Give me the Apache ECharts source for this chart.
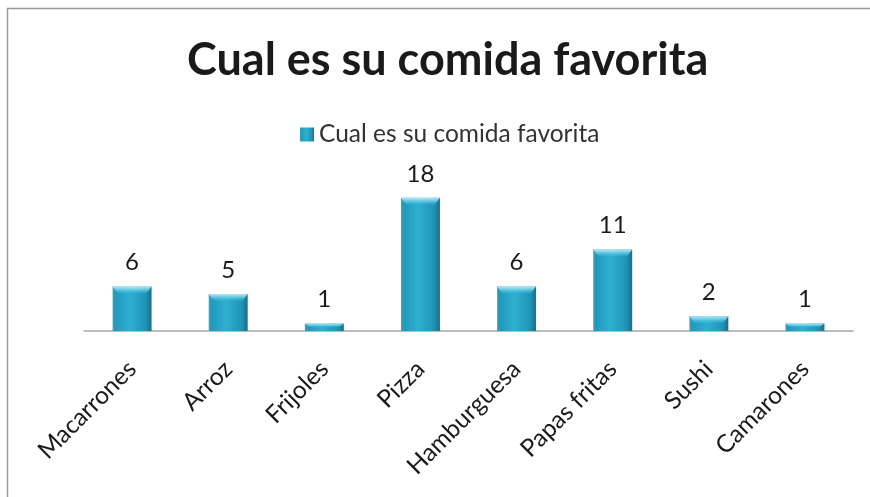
<!DOCTYPE html>
<html>
<head>
<meta charset="utf-8">
<script src="https://cdn.jsdelivr.net/npm/echarts@6/dist/echarts.min.js"></script>
<style>
  html, body { margin: 0; padding: 0; background: #fff; }
  #chart { width: 870px; height: 497px; }
</style>
</head>
<body>
<div id="chart"></div>
<script>
// Survey: favourite food
const categories = ['Macarrones', 'Arroz', 'Frijoles', 'Pizza', 'Hamburguesa', 'Papas fritas', 'Sushi', 'Camarones'];
const votes = [6, 5, 1, 18, 6, 11, 2, 1];
const seriesName = 'Cual es su comida favorita';
const titleText = 'Cual es su comida favorita';

const FONT = 'Lato, "Open Sans", sans-serif';
const BAR_W = 39;

// Cylinder-like shading: darker sides, brighter middle
const barFill = new echarts.graphic.LinearGradient(0, 0, 1, 0, [
  { offset: 0, color: '#5f9fb3' },
  { offset: 0.06, color: '#1f98bb' },
  { offset: 0.45, color: '#2fb0d3' },
  { offset: 0.85, color: '#1f93b5' },
  { offset: 1, color: '#15708b' }
]);

// Bevelled highlight on the top of each bar
function renderBevel(params, api) {
  const idx = api.value(0);
  const top = api.coord([idx, api.value(1)]);
  const base = api.coord([idx, 0]);
  const x0 = top[0] - BAR_W / 2;
  const x1 = top[0] + BAR_W / 2;
  const h = Math.min(7, (base[1] - top[1]) * 0.5);
  const inset = 5;
  return {
    type: 'polygon',
    shape: {
      points: [[x0, top[1]], [x1, top[1]], [x1 - inset, top[1] + h], [x0 + inset, top[1] + h]]
    },
    style: {
      fill: new echarts.graphic.LinearGradient(0, 0, 0, 1, [
        { offset: 0, color: 'rgba(190,238,250,0.95)' },
        { offset: 0.5, color: 'rgba(120,212,236,0.7)' },
        { offset: 1, color: 'rgba(60,184,216,0.2)' }
      ])
    },
    silent: true
  };
}

const chart = echarts.init(document.getElementById('chart'), null, { renderer: 'canvas' });
chart.setOption({
  backgroundColor: '#ffffff',
  animation: false,
  graphic: [{
    type: 'rect',
    shape: { x: 7.5, y: 8.5, width: 900, height: 600 },
    style: { fill: 'none', stroke: '#9a9a9a', lineWidth: 1.5 },
    silent: true,
    z: -1
  }],
  title: {
    text: titleText,
    left: 182,
    top: 33,
    textStyle: { fontFamily: FONT, fontWeight: 'bold', fontSize: 45, color: '#1a1a1a' }
  },
  legend: {
    data: [seriesName],
    top: 117,
    left: 295,
    itemWidth: 14,
    itemHeight: 14,
    itemGap: 5,
    icon: 'rect',
    textStyle: { fontFamily: FONT, fontSize: 24.5, color: '#333' }
  },
  grid: { left: 84, right: 17, top: 183, bottom: 166, containLabel: false },
  xAxis: {
    type: 'category',
    data: categories,
    axisLine: { show: true, lineStyle: { color: '#a6a6a6', width: 1.5 } },
    axisTick: { show: false },
    axisLabel: {
      rotate: 45,
      interval: 0,
      margin: 34,
      fontFamily: FONT,
      fontSize: 24.5,
      color: '#1a1a1a'
    }
  },
  yAxis: {
    type: 'value',
    min: 0,
    max: 20,
    interval: 2,
    show: false,
    splitLine: { show: false }
  },
  series: [{
    name: seriesName,
    type: 'bar',
    data: votes,
    barWidth: BAR_W,
    itemStyle: { color: barFill },
    label: {
      show: true,
      position: 'top',
      distance: 12,
      fontFamily: FONT,
      fontSize: 24,
      color: '#1a1a1a'
    }
  }, {
    type: 'custom',
    renderItem: renderBevel,
    data: votes.map((v, i) => [i, v]),
    encode: { x: 0, y: 1 },
    z: 3,
    silent: true,
    tooltip: { show: false }
  }]
});
</script>
</body>
</html>
